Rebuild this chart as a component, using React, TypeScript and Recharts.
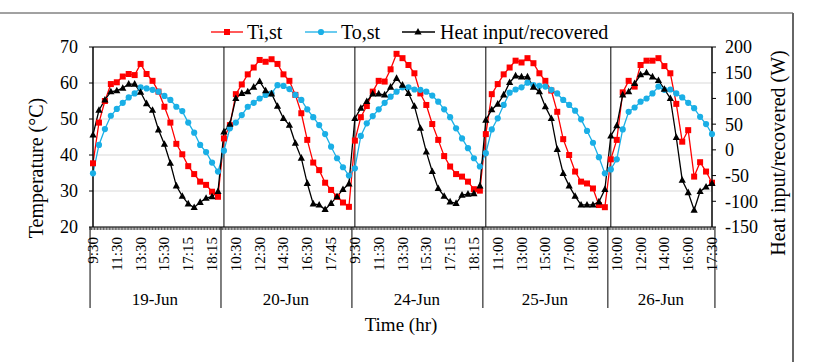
import React from 'react';
import { ComposedChart, Line, XAxis, YAxis, CartesianGrid, ReferenceLine, Customized } from 'recharts';

const FONT = '"Liberation Serif", "Times New Roman", serif';
const RED = '#ff0000';
const BLUE = '#1aafe6';
const BLACK = '#000000';

// ---------- data ----------
const dayNames = ['19-Jun', '20-Jun', '24-Jun', '25-Jun', '26-Jun'];

const times19 = ['9:30', '', '', '', '11:30', '', '', '', '13:30', '', '', '', '15:30', '', '', '', '17:15', '', '', '', '18:15', ''];
const times20 = ['', '', '10:30', '', '', '', '12:30', '', '', '', '14:30', '', '', '', '16:30', '', '', '', '17:45', '', '', ''];
const times24 = ['9:30', '', '', '', '11:30', '', '', '', '13:30', '', '', '', '15:30', '', '', '', '17:15', '', '', '', '18:15', ''];
const times25 = ['', '', '11:00', '', '', '', '13:00', '', '', '', '15:00', '', '', '', '17:00', '', '', '', '18:00', '', ''];
const times26 = ['', '10:00', '', '', '', '12:00', '', '', '', '14:00', '', '', '', '16:00', '', '', '', '17:30'];

const ti19 = [37.7, 49.0, 55.0, 59.7, 60.2, 61.8, 62.5, 62.2, 65.3, 62.5, 60.6, 57.6, 53.4, 49.0, 43.1, 40.2, 36.9, 34.7, 32.6, 31.7, 29.8, 28.4];
const to19 = [34.9, 42.8, 47.2, 50.9, 52.8, 54.5, 56.0, 57.1, 58.8, 58.5, 58.1, 57.6, 56.4, 55.3, 53.4, 52.2, 49.0, 46.2, 42.8, 40.8, 37.9, 35.4];
const heat19 = [29, 77, 97, 113, 115, 120, 128, 128, 112, 90, 77, 39, 11, -26, -70, -90, -105, -112, -102, -94, -91, -81];

const ti20 = [44.6, 48.3, 56.9, 59.6, 62.4, 64.3, 66.4, 65.9, 66.6, 65.3, 62.4, 60.6, 56.7, 51.6, 44.2, 37.9, 35.8, 32.3, 30.3, 28.4, 26.8, 25.6];
const to20 = [41.2, 47.4, 49.0, 51.1, 53.4, 54.5, 55.7, 56.7, 57.1, 59.4, 59.2, 58.3, 56.7, 55.3, 52.7, 50.5, 48.3, 45.8, 42.3, 39.1, 36.6, 34.3];
const heat20 = [35, 50, 100, 110, 113, 122, 133, 115, 109, 85, 61, 48, 13, -16, -65, -105, -107, -116, -104, -91, -77, -66];

const ti24 = [44.0, 50.5, 53.6, 57.6, 60.6, 60.4, 63.8, 68.1, 66.9, 65.0, 62.7, 57.1, 53.9, 48.6, 44.2, 39.7, 36.8, 34.7, 34.0, 32.6, 30.5, 30.1];
const to24 = [36.3, 45.3, 48.8, 50.8, 52.7, 54.5, 56.2, 57.6, 58.8, 58.8, 58.2, 58.1, 57.6, 56.5, 54.8, 52.7, 50.5, 47.4, 44.6, 41.9, 39.1, 36.8];
const heat24 = [61, 81, 94, 109, 109, 107, 122, 139, 126, 110, 85, 42, -4, -42, -75, -90, -101, -104, -88, -86, -85, -70];

const ti25 = [45.8, 56.9, 59.7, 62.4, 64.3, 66.2, 65.7, 66.9, 65.5, 62.7, 60.6, 57.9, 52.0, 44.4, 40.0, 35.4, 32.6, 32.1, 30.7, 26.1, 25.5];
const to25 = [40.5, 47.1, 50.2, 53.9, 57.3, 58.2, 58.8, 60.1, 59.4, 59.2, 59.0, 58.1, 57.1, 55.3, 53.9, 52.3, 49.9, 46.7, 43.4, 39.4, 34.9];
const heat25 = [58, 78, 89, 107, 131, 144, 142, 142, 122, 113, 84, 61, 1, -46, -70, -90, -107, -107, -107, -101, -77];

const ti26 = [38.8, 44.2, 57.4, 60.6, 59.0, 65.0, 66.2, 66.2, 66.9, 64.7, 62.7, 54.2, 43.7, 46.9, 34.0, 38.0, 35.4, 32.3];
const to26 = [36.0, 38.8, 47.1, 52.0, 53.2, 54.8, 55.7, 57.1, 59.0, 58.1, 58.2, 57.1, 56.0, 54.5, 53.0, 50.6, 48.6, 45.8];
const heat26 = [27, 47, 107, 113, 129, 146, 150, 142, 135, 118, 100, 24, -59, -83, -117, -81, -72, -65];

const leftTicks = [20, 30, 40, 50, 60, 70];
const rightTicks = [-150, -100, -50, 0, 50, 100, 150, 200];

const dayTimes = [times19, times20, times24, times25, times26];
const dayTi = [ti19, ti20, ti24, ti25, ti26];
const dayTo = [to19, to20, to24, to25, to26];
const dayHeat = [heat19, heat20, heat24, heat25, heat26];

type Row = { i: number; day: number; pos: number; n: number; time: string; ti: number; to: number; q: number };
const data: Row[] = [];
const dayStarts: number[] = [];
dayNames.forEach((_, k) => {
  dayStarts.push(data.length);
  const n = dayTi[k].length;
  dayTi[k].forEach((v, j) => {
    data.push({ i: data.length, day: k, pos: j, n, time: dayTimes[k][j], ti: v, to: dayTo[k][j], q: dayHeat[k][j] });
  });
});

// ---------- layout ----------
const W = 820;
const H = 362;
const LEFT_W = 93;
const RIGHT_W = 108;
const TOP = 47;
const XAXIS_H = 135;
const PLOT_W = W - LEFT_W - RIGHT_W;
const BAND = PLOT_W / data.length;

function XTick(props: any) {
  const { x, y, payload } = props;
  const row = data[payload.value];
  if (!row) return null;
  const left = x - BAND / 2;
  const els: any[] = [];
  for (let k = 0; k < 4; k++) {
    const xx = left + (k * BAND) / 4;
    els.push(<line key={'m' + k} x1={xx} y1={y} x2={xx} y2={y + 3} stroke="#333" strokeWidth={0.8} />);
  }
  if (row.time) {
    els.push(
      <text key="t" transform={`translate(${x + 5},${y + 10}) rotate(-90)`} textAnchor="end" fontSize={15} fontFamily={FONT} fill="#000">
        {row.time}
      </text>
    );
  }
  if (row.pos === 0) {
    els.push(<line key="sep" x1={left} y1={y} x2={left} y2={y + 81} stroke="#000" strokeWidth={1} />);
    els.push(
      <text key="d" x={left + (row.n * BAND) / 2} y={y + 78} textAnchor="middle" fontSize={17} fontFamily={FONT} fill="#000">
        {dayNames[row.day]}
      </text>
    );
  }
  if (row.i === data.length - 1) {
    els.push(<line key="end" x1={x + BAND / 2} y1={y} x2={x + BAND / 2} y2={y + 81} stroke="#000" strokeWidth={1} />);
  }
  return <g>{els}</g>;
}

const renderSquare = (p: any) =>
  p.cx == null ? <g key={'s' + p.index} /> : <rect key={'s' + p.index} x={p.cx - 3} y={p.cy - 3} width={6} height={6} fill={RED} />;
const renderCircle = (p: any) =>
  p.cx == null ? <g key={'c' + p.index} /> : <circle key={'c' + p.index} cx={p.cx} cy={p.cy} r={3.1} fill={BLUE} />;
const renderTri = (p: any) =>
  p.cx == null ? (
    <g key={'t' + p.index} />
  ) : (
    <path key={'t' + p.index} d={`M${p.cx},${p.cy - 4}L${p.cx + 3.6},${p.cy + 2.6}L${p.cx - 3.6},${p.cy + 2.6}Z`} fill={BLACK} />
  );

function Decorations() {
  const ly = 32;
  return (
    <g fontFamily={FONT}>
      {/* outer frame pieces */}
      <line x1={0} y1={13} x2={793} y2={13} stroke="#444" strokeWidth={1} />
      <line x1={793} y1={13} x2={793} y2={H} stroke="#666" strokeWidth={2} />
      {/* legend */}
      <line x1={211} y1={ly} x2={243} y2={ly} stroke={RED} strokeWidth={1.3} />
      <rect x={224} y={ly - 3} width={6} height={6} fill={RED} />
      <text x={247} y={ly + 6.5} fontSize={20} fill="#000">Ti,st</text>
      <line x1={305} y1={ly} x2={337} y2={ly} stroke={BLUE} strokeWidth={1.3} />
      <circle cx={321} cy={ly} r={3.1} fill={BLUE} />
      <text x={341} y={ly + 6.5} fontSize={20} fill="#000">To,st</text>
      <line x1={402} y1={ly} x2={435} y2={ly} stroke={BLACK} strokeWidth={1.3} />
      <path d={`M418,${ly - 4}L421.6,${ly + 2.6}L414.4,${ly + 2.6}Z`} fill={BLACK} />
      <text x={440} y={ly + 6.5} fontSize={20} fill="#000">Heat input/recovered</text>
      {/* axis titles */}
      <text transform="translate(43,168) rotate(-90)" textAnchor="middle" fontSize={20} fill="#000">Temperature (°C)</text>
      <text transform="translate(785,153) rotate(-90)" textAnchor="middle" fontSize={20} fill="#000">Heat input/recovered (W)</text>
      <text x={401} y={331} textAnchor="middle" fontSize={19} fill="#000">Time (hr)</text>
    </g>
  );
}

export default function App() {
  return (
    <div style={{ position: 'absolute', left: 0, top: 0, width: W, height: H, background: '#fff' }}>
      <ComposedChart width={W} height={H} data={data} margin={{ top: TOP, right: 0, bottom: 0, left: 0 }}>
        <CartesianGrid yAxisId="left" horizontal={true} vertical={false} stroke="#d9d9d9" strokeWidth={1} />
        <XAxis
          dataKey="i"
          type="category"
          interval={0}
          height={XAXIS_H}
          tickLine={false}
          tickSize={0}
          tickMargin={0}
          axisLine={{ stroke: '#000', strokeWidth: 1 }}
          tick={<XTick />}
        />
        <YAxis
          yAxisId="left"
          domain={[20, 70]}
          ticks={leftTicks}
          interval={0}
          width={LEFT_W}
          tickSize={4}
          tickMargin={11}
          axisLine={{ stroke: '#000', strokeWidth: 1.5 }}
          tickLine={{ stroke: '#000' }}
          tick={{ fontSize: 18, fontFamily: FONT, fill: '#000' }}
          allowDataOverflow
        />
        <YAxis
          yAxisId="right"
          orientation="right"
          domain={[-150, 200]}
          ticks={rightTicks}
          interval={0}
          width={RIGHT_W}
          tickSize={4}
          tickMargin={9}
          axisLine={{ stroke: '#000', strokeWidth: 1.5 }}
          tickLine={{ stroke: '#000' }}
          tick={{ fontSize: 18, fontFamily: FONT, fill: '#000', textAnchor: 'start' }}
          allowDataOverflow
        />
        <ReferenceLine yAxisId="left" y={70} stroke="#000" strokeWidth={1.2} />
        {dayStarts.slice(1).map((s) => (
          <ReferenceLine key={'ds' + s} yAxisId="left" x={s} position="start" stroke="#000" strokeWidth={1} />
        ))}
        <Line
          yAxisId="left"
          dataKey="ti"
          type="linear"
          stroke={RED}
          strokeWidth={1.3}
          dot={renderSquare}
          activeDot={false}
          isAnimationActive={false}
        />
        <Line
          yAxisId="left"
          dataKey="to"
          type="linear"
          stroke={BLUE}
          strokeWidth={1.3}
          dot={renderCircle}
          activeDot={false}
          isAnimationActive={false}
        />
        <Line
          yAxisId="right"
          dataKey="q"
          type="linear"
          stroke={BLACK}
          strokeWidth={1.3}
          dot={renderTri}
          activeDot={false}
          isAnimationActive={false}
        />
        <Customized component={<Decorations />} />
      </ComposedChart>
    </div>
  );
}
